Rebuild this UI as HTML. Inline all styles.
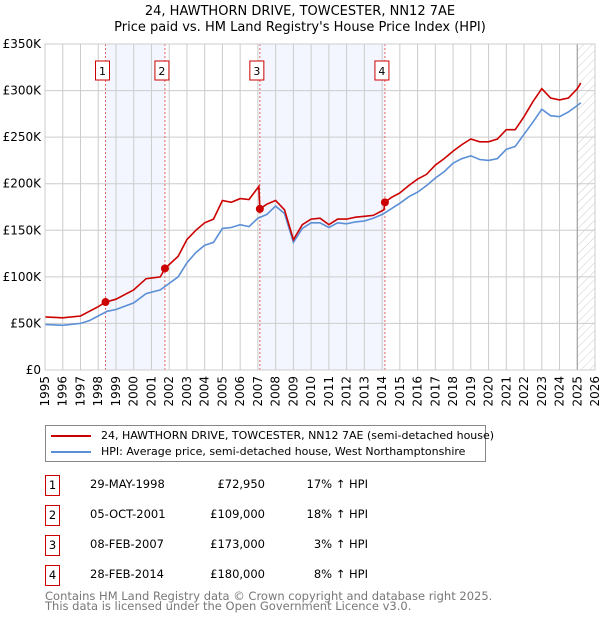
<!DOCTYPE html>
<html><head><meta charset="utf-8"><style>
body{margin:0;background:#fff;font-family:"DejaVu Sans","Liberation Sans",sans-serif;}
#wrap{position:relative;width:600px;height:620px;overflow:hidden}
.t{position:absolute;font-size:12px;color:#000;white-space:nowrap}
</style></head><body><div id="wrap">
<div class="t" style="left:0;width:600px;text-align:center;top:4px;font-size:13px;line-height:16px">24, HAWTHORN DRIVE, TOWCESTER, NN12 7AE<br>Price paid vs. HM Land Registry's House Price Index (HPI)</div>
<svg id="chart" width="600" height="410" style="position:absolute;left:0;top:0" font-family="DejaVu Sans, Liberation Sans, sans-serif" font-size="12"></svg>
<div style="position:absolute;left:45px;top:425px;width:441px;height:37px;border:1px solid #888;box-sizing:border-box">
<div style="position:absolute;left:5px;top:3px;font-size:11px;white-space:nowrap"><span style="display:inline-block;width:40px;height:2px;background:#cc0000;vertical-align:middle;margin-right:10px"></span>24, HAWTHORN DRIVE, TOWCESTER, NN12 7AE (semi-detached house)</div>
<div style="position:absolute;left:5px;top:19px;font-size:11px;white-space:nowrap"><span style="display:inline-block;width:40px;height:2px;background:#5b8fd6;vertical-align:middle;margin-right:10px"></span>HPI: Average price, semi-detached house, West Northamptonshire</div>
</div>
<div id="table"></div>
<div class="t" style="left:45px;top:591px;font-size:11.5px;color:#777;line-height:10px">Contains HM Land Registry data © Crown copyright and database right 2025.<br>This data is licensed under the Open Government Licence v3.0.</div>
</div>
<script>
const hpiYears=[1995,1996,1997,1997.5,1998,1998.5,1999,2000,2000.7,2001.5,2002,2002.5,2003,2003.5,2004,2004.5,2005,2005.5,2006,2006.5,2007,2007.5,2008,2008.5,2009,2009.5,2010,2010.5,2011,2011.5,2012,2012.5,2013,2013.5,2014,2014.5,2015,2015.5,2016,2016.5,2017,2017.5,2018,2018.5,2019,2019.5,2020,2020.5,2021,2021.5,2022,2022.5,2023,2023.5,2024,2024.5,2025,2025.2];
const hpiValues=[49,48,50,53,58,63,65,72,82,86,93,100,115,126,134,137,152,153,156,154,163,167,176,168,137,152,158,158,153,158,157,159,160,163,167,173,179,186,191,198,206,213,222,227,230,226,225,227,237,240,253,266,280,273,272,277,284,287];
const priceYears=[1995,1996,1997,1998,1998.41,1999,2000,2000.7,2001.5,2001.76,2002.5,2003,2003.5,2004,2004.5,2005,2005.5,2006,2006.5,2007.05,2007.11,2007.5,2008,2008.5,2009,2009.5,2010,2010.5,2011,2011.5,2012,2012.5,2013,2013.5,2014.1,2014.16,2014.5,2015,2015.5,2016,2016.5,2017,2017.5,2018,2018.5,2019,2019.5,2020,2020.5,2021,2021.5,2022,2022.5,2023,2023.5,2024,2024.5,2025,2025.2];
const priceValues=[57,56,58,68,72.95,76,86,98,100,109,122,140,150,158,162,182,180,184,183,197,173,178,182,172,140,156,162,163,156,162,162,164,165,166,172,180,185,190,198,205,210,220,227,235,242,248,245,245,248,258,258,272,288,302,292,290,292,302,308];
const saleLabels=["1","2","3","4"];
const saleYears=[1998.41,2001.76,2007.11,2014.16];
const saleValues=[72.95,109,173,180];
const saleDates=["29-MAY-1998","05-OCT-2001","08-FEB-2007","28-FEB-2014"];
const salePrices=["£72,950","£109,000","£173,000","£180,000"];
const saleHpi=["17% ↑ HPI","18% ↑ HPI","3% ↑ HPI","8% ↑ HPI"];
const yTicks=[0,50,100,150,200,250,300,350];
const yTickLabels=["£0","£50K","£100K","£150K","£200K","£250K","£300K","£350K"];
const xTicks=[1995,1996,1997,1998,1999,2000,2001,2002,2003,2004,2005,2006,2007,2008,2009,2010,2011,2012,2013,2014,2015,2016,2017,2018,2019,2020,2021,2022,2023,2024,2025,2026];
const dataEnd=2025.0;

const L=45,R=595,T=44,B=370,X0=1995,X1=2026,YMAX=350;
const x=v=>L+(v-X0)/(X1-X0)*(R-L);
const y=v=>B-v/YMAX*(B-T);
const svg=document.getElementById('chart');
const NS='http://www.w3.org/2000/svg';
function mk(tag,attrs,parent){const e=document.createElementNS(NS,tag);for(const k in attrs)e.setAttribute(k,attrs[k]);(parent||svg).appendChild(e);return e;}
const defs=mk('defs',{});
const pat=mk('pattern',{id:'hatch',width:6,height:6,patternUnits:'userSpaceOnUse',patternTransform:'rotate(45)'},defs);
mk('line',{x1:0,y1:0,x2:0,y2:6,stroke:'#ccc','stroke-width':1},pat);
for(let i=0;i<saleYears.length;i+=2){
 const r=mk('rect',{x:x(saleYears[i]),y:T,width:x(saleYears[i+1])-x(saleYears[i]),height:B-T,fill:'#f3f6fe'});
 
 
}
const h=mk('rect',{x:x(dataEnd),y:T,width:R-x(dataEnd),height:B-T,fill:'url(#hatch)'});


xTicks.forEach(t=>{
 mk('line',{x1:x(t),y1:T,x2:x(t),y2:B,stroke:'#ccc','stroke-width':1});
 const tx=mk('text',{x:0,y:0,transform:`translate(${x(t)+4},${B+6}) rotate(-90)`,'text-anchor':'end',fill:'#000'});
 tx.textContent=t;
 
 
});
yTicks.forEach((t,i)=>{
 mk('line',{x1:L,y1:y(t),x2:R,y2:y(t),stroke:'#ccc','stroke-width':1});
 const tx=mk('text',{x:L-4,y:y(t)+4,'text-anchor':'end',fill:'#000'});
 tx.textContent=yTickLabels[i];
 
 
});
mk('line',{x1:x(dataEnd),y1:T,x2:x(dataEnd),y2:B,stroke:'#999','stroke-width':1});
saleYears.forEach(s=>mk('line',{x1:x(s),y1:T,x2:x(s),y2:B,stroke:'#e06666','stroke-width':1,'stroke-dasharray':'2,2'}));
function path(xs,vs,col,name){
 const d=xs.map((v,i)=>(i?'L':'M')+x(v).toFixed(1)+','+y(vs[i]).toFixed(1)).join('');
 const p=mk('path',{d:d,fill:'none',stroke:col,'stroke-width':1.6});
 
 
}
path(hpiYears,hpiValues,'#5b8fd6','hpi-line');
path(priceYears,priceValues,'#cc0000','price-paid-line');
saleYears.forEach((s,i)=>{
 const c=mk('circle',{cx:x(s),cy:y(saleValues[i]),r:4,fill:'#cc0000'});
 
 
 const g=mk('g',{});
 
 
 const cx=x(s)-3;
 mk('rect',{x:cx-7,y:61,width:14,height:19,fill:'#fff',stroke:'#cc0000','stroke-width':1},g);
 const t=mk('text',{x:cx,y:75,'text-anchor':'middle',fill:'#000','font-size':11},g);
 t.textContent=saleLabels[i];
});
mk('rect',{x:L,y:T,width:R-L,height:B-T,fill:'none',stroke:'#ccc'});
const tb=document.getElementById('table');
saleLabels.forEach((l,i)=>{
 const top=475+i*30;
 const row=document.createElement('div');
 
 
 row.innerHTML=`<div class="t" style="left:45px;top:${top}px;width:15px;height:21px;border:1px solid #cc0000;box-sizing:border-box;text-align:center;line-height:19px;font-size:11.5px">${l}</div>
<div class="t" style="left:90px;top:${top+2}px;font-size:11.5px">${saleDates[i]}</div>
<div class="t" style="left:190px;width:75px;text-align:right;top:${top+2}px;font-size:11.5px">${salePrices[i]}</div>
<div class="t" style="left:280px;width:88px;text-align:right;top:${top+2}px;font-size:11.5px">${saleHpi[i]}</div>`;
 tb.appendChild(row);
});
</script></body></html>
